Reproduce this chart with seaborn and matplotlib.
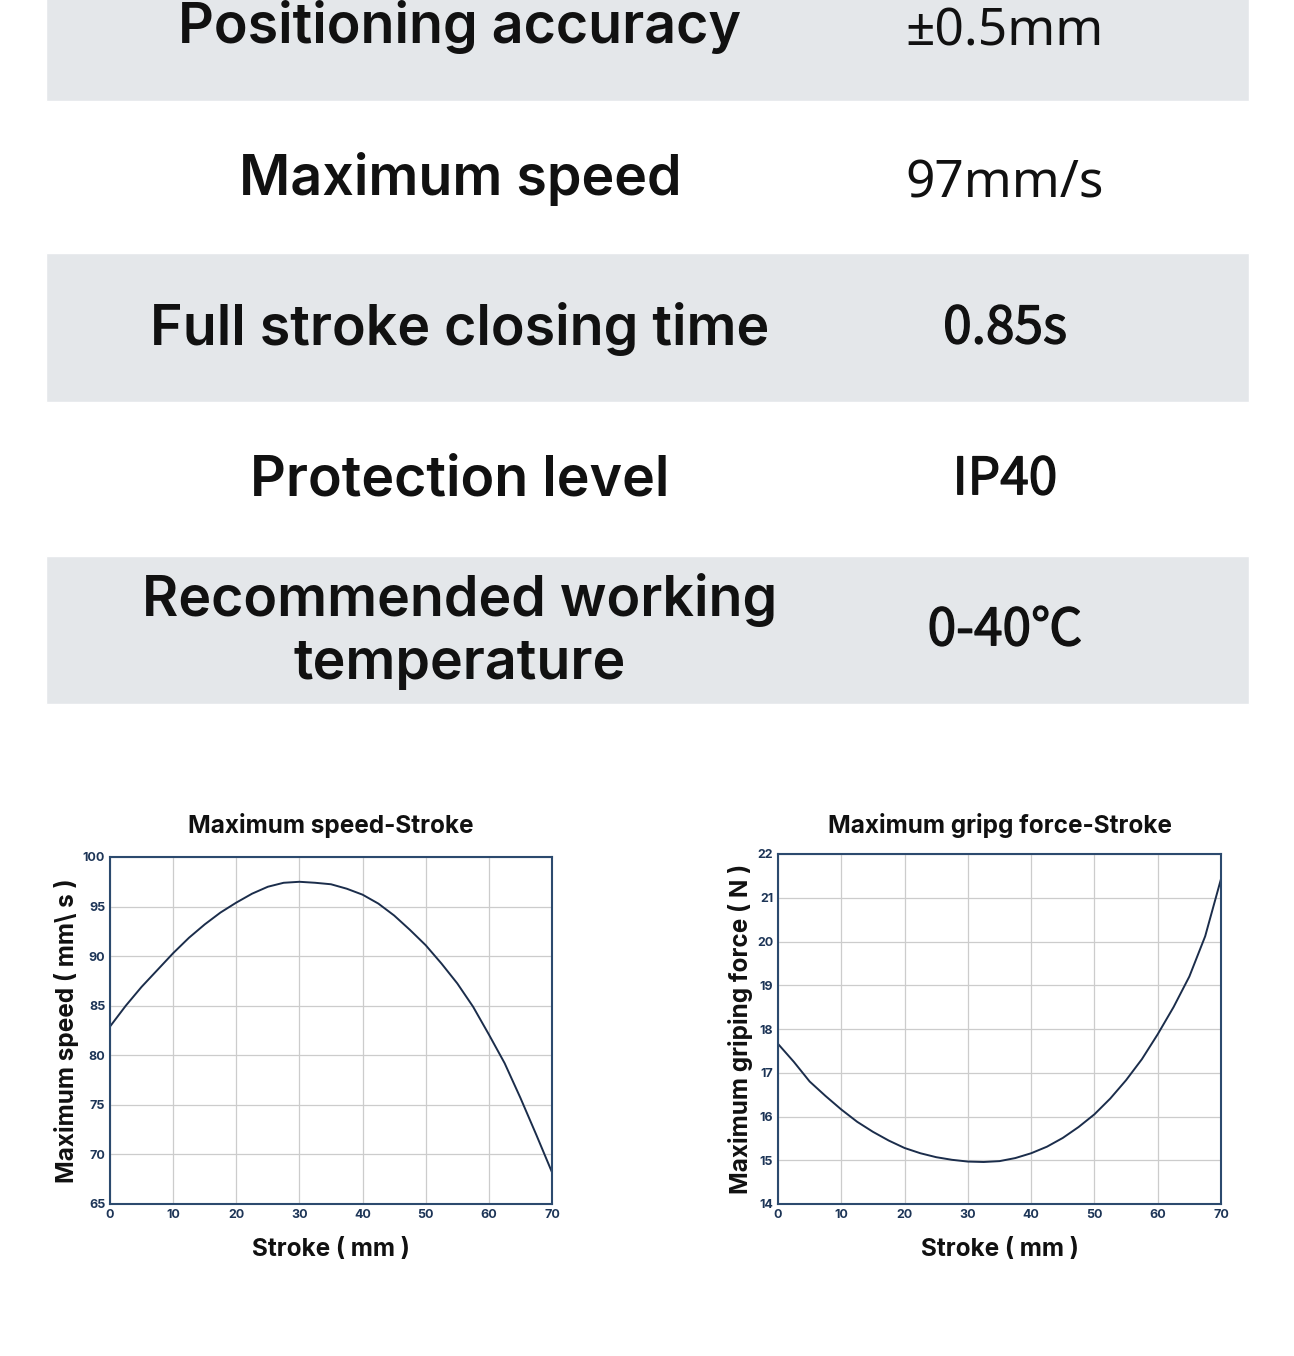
import numpy as np
import pandas as pd
import seaborn as sns
import matplotlib.pyplot as plt
import matplotlib.patheffects as pe

# данные таблицы
spec_names = ['Positioning accuracy', 'Maximum speed', 'Full stroke closing time',
              'Protection level', 'Recommended working\ntemperature']
spec_values = ['±0.5mm', '97mm/s', '0.85s', 'IP40', '0-40℃']
value_heavy = [False, False, True, True, True]

# данные графиков
stroke = [0, 2.5, 5, 7.5, 10, 12.5, 15, 17.5, 20, 22.5, 25, 27.5, 30, 32.5, 35,
          37.5, 40, 42.5, 45, 47.5, 50, 52.5, 55, 57.5, 60, 62.5, 65, 67.5, 70]
speed = [82.9, 85.0, 86.9, 88.6, 90.3, 91.85, 93.2, 94.4, 95.4, 96.3, 97.0, 97.4, 97.5, 97.4, 97.25,
         96.8, 96.2, 95.3, 94.1, 92.65, 91.1, 89.25, 87.25, 84.9, 82.1, 79.2, 75.7, 72.0, 68.2]
force = [17.66, 17.25, 16.8, 16.47, 16.16, 15.88, 15.65, 15.45, 15.28, 15.16, 15.07, 15.01, 14.97, 14.96, 14.98,
         15.05, 15.16, 15.31, 15.51, 15.76, 16.05, 16.41, 16.83, 17.31, 17.88, 18.5, 19.2, 20.12, 21.43]

sns.set_style('white')
plt.rcParams['font.family'] = ['Inter', 'DejaVu Sans']

W, H = 1294, 1356
fig = plt.figure(figsize=(W / 100, H / 100), dpi=100)

# таблица
ax_t = fig.add_axes([0, 0, 1, 1])
ax_t.set_xlim(0, W)
ax_t.set_ylim(H, 0)
ax_t.axis('off')
row_h = 151
row_c = [-50 + row_h * (i + 0.5) for i in range(len(spec_names))]
gray = [row_c[i] for i in range(len(row_c)) if i % 2 == 0]
ax_t.barh(gray, 1203, height=[150, 149, 148][:len(gray)], left=46, color='#e4e7ea')
for i, (name, val) in enumerate(zip(spec_names, spec_values)):
    ax_t.text(460, row_c[i] + 2, name, ha='center', va='center', fontsize=40, fontweight='semibold',
              color='#111111', linespacing=1.25)
    if i < 2:
        fam, dy = ['Noto Sans', 'Noto Sans CJK SC'], 7
    else:
        fam, dy = ['Noto Sans CJK SC', 'DejaVu Sans'], 1
    t = ax_t.text(1005, row_c[i] + dy, val, ha='center', va='center', fontsize=37,
                  family=fam, color='#111111')
    if value_heavy[i]:
        # чуть жирнее обычного начертания
        t.set_path_effects([pe.withStroke(linewidth=1.0, foreground='#111111')])

navy = '#1d3557'
line_c = '#1b2d4b'


def style_axes(ax, ylim, yticks, title, ylabel):
    ax.set_xlim(0, 70)
    ax.set_ylim(*ylim)
    ax.set_xticks(range(0, 71, 10))
    ax.set_yticks(yticks)
    ax.grid(True, color='#cccccc', linewidth=0.9)
    for s in ax.spines.values():
        s.set_color('#2c4a6e')
        s.set_linewidth(1.5)
    ax.tick_params(axis='both', length=2, width=1, color='#2c4a6e', labelsize=9, labelcolor=navy, pad=1.5)
    for lab in ax.get_xticklabels() + ax.get_yticklabels():
        lab.set_fontweight('bold')
    ax.set_xlabel('Stroke ( mm )', fontsize=17.5, fontweight='bold', color='#111111', labelpad=12)
    ax.set_ylabel(ylabel, fontsize=17.5, fontweight='bold', color='#111111', labelpad=3)
    # заголовок на одной высоте для обоих графиков
    box = ax.get_position()
    fig.text(box.x0 + box.width / 2, 1 - 825 / H, title, ha='center', va='center',
             fontsize=17.5, fontweight='bold', color='#111111')


df = pd.DataFrame({'stroke': stroke, 'speed': speed, 'force': force})

ax1 = fig.add_axes([110 / W, 1 - 1204 / H, 442 / W, 347 / H])
sns.lineplot(data=df, x='stroke', y='speed', ax=ax1, color=line_c, linewidth=1.4)
style_axes(ax1, (65, 100), range(65, 101, 5), 'Maximum speed-Stroke', 'Maximum speed ( mm\\ s )')

ax2 = fig.add_axes([778 / W, 1 - 1204 / H, 443 / W, 350 / H])
sns.lineplot(data=df, x='stroke', y='force', ax=ax2, color=line_c, linewidth=1.4)
style_axes(ax2, (14, 22), range(14, 23), 'Maximum gripg force-Stroke', 'Maximum griping force ( N )')

fig.savefig('out.png', dpi=100)
